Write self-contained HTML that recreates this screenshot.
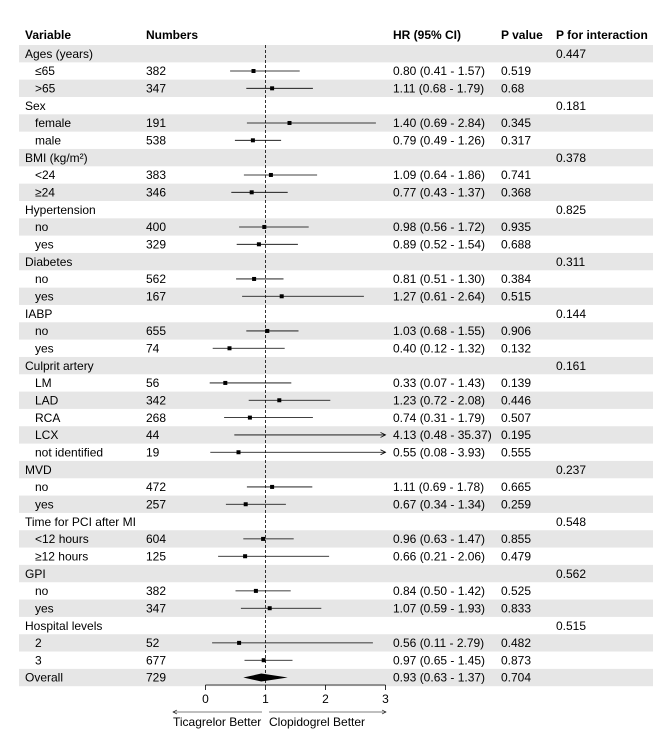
<!DOCTYPE html>
<html><head><meta charset="utf-8">
<style>
body{margin:0;background:#fff;}
svg{display:block;font-family:"Liberation Sans",Arial,sans-serif;}
</style></head>
<body>
<svg id="c" width="669" height="756" viewBox="0 0 669 756" xmlns="http://www.w3.org/2000/svg">
</svg>
<script>
const labels=["Ages (years)","≤65",">65","Sex","female","male","BMI (kg/m²)","<24","≥24","Hypertension","no","yes","Diabetes","no","yes","IABP","no","yes","Culprit artery","LM","LAD","RCA","LCX","not identified","MVD","no","yes","Time for PCI after MI","<12 hours","≥12 hours","GPI","no","yes","Hospital levels","2","3","Overall"];
const isGroup=[1,0,0,1,0,0,1,0,0,1,0,0,1,0,0,1,0,0,1,0,0,0,0,0,1,0,0,1,0,0,1,0,0,1,0,0,0];
const numbers=["","382","347","","191","538","","383","346","","400","329","","562","167","","655","74","","56","342","268","44","19","","472","257","","604","125","","382","347","","52","677","729"];
const est=[null,0.80,1.11,null,1.40,0.79,null,1.09,0.77,null,0.98,0.89,null,0.81,1.27,null,1.03,0.40,null,0.33,1.23,0.74,4.13,0.55,null,1.11,0.67,null,0.96,0.66,null,0.84,1.07,null,0.56,0.97,0.93];
const lo=[null,0.41,0.68,null,0.69,0.49,null,0.64,0.43,null,0.56,0.52,null,0.51,0.61,null,0.68,0.12,null,0.07,0.72,0.31,0.48,0.08,null,0.69,0.34,null,0.63,0.21,null,0.50,0.59,null,0.11,0.65,0.63];
const hi=[null,1.57,1.79,null,2.84,1.26,null,1.86,1.37,null,1.72,1.54,null,1.30,2.64,null,1.55,1.32,null,1.43,2.08,1.79,35.37,3.93,null,1.78,1.34,null,1.47,2.06,null,1.42,1.93,null,2.79,1.45,1.37];
const pval=["","0.519","0.68","","0.345","0.317","","0.741","0.368","","0.935","0.688","","0.384","0.515","","0.906","0.132","","0.139","0.446","0.507","0.195","0.555","","0.665","0.259","","0.855","0.479","","0.525","0.833","","0.482","0.873","0.704"];
const pint=["0.447","","","0.181","","","0.378","","","0.825","","","0.311","","","0.144","","","0.161","","","","","","0.237","","","0.548","","","0.562","","","0.515","","",""];
const ticks=[0,1,2,3];
const fmt=v=>v.toFixed(2);
const NS="http://www.w3.org/2000/svg";
const svg=document.getElementById('c');
function mk(t,a,p){const e=document.createElementNS(NS,t);for(const k in a)e.setAttribute(k,a[k]);(p||svg).appendChild(e);return e;}
const x=v=>205.5+60*v;
const rowTop=i=>45+i*17.33;
const rowH=17.33;
const cy=i=>rowTop(i)+rowH/2;
const xmax=3;
// header
const hdr=[["Variable",25],["Numbers",146],["HR (95% CI)",393],["P value",501],["P for interaction",556]];
hdr.forEach(h=>{const t=mk('text',{x:h[1],y:39,'font-size':12,'font-weight':'bold',fill:'#000'});t.textContent=h[0];

});
// rows
labels.forEach((lab,i)=>{
 const g=mk('g',{});
 
 
 if(i%2===0){const r=mk('rect',{x:19,y:rowTop(i),width:634,height:rowH,fill:'#e6e6e6'},g);
  
  }
 const ty=cy(i)+4.2;
 const t=mk('text',{x:isGroup[i]||i===labels.length-1?25:35,y:ty,'font-size':12},g);t.textContent=lab;
 
 
 if(numbers[i]){const n=mk('text',{x:146,y:ty,'font-size':12},g);n.textContent=numbers[i];
  
  }
 if(est[i]!==null){
  const h=mk('text',{x:393,y:ty,'font-size':12},g);h.textContent=fmt(est[i])+" ("+fmt(lo[i])+" - "+fmt(hi[i])+")";
  
  
 }
 if(pval[i]){const p=mk('text',{x:501,y:ty,'font-size':12},g);p.textContent=pval[i];
  
  }
 if(pint[i]){const p=mk('text',{x:556,y:ty,'font-size':12},g);p.textContent=pint[i];
  
  }
});
// reference line
const ref=mk('line',{x1:x(1),x2:x(1),y1:45,y2:685,stroke:'#000','stroke-width':0.8,'stroke-dasharray':'3,2'});


// CIs
labels.forEach((lab,i)=>{
 if(est[i]===null) return;
 const y=cy(i);
 if(i===labels.length-1){
  const d=mk('polygon',{points:`${x(lo[i])},${y} ${x(est[i])},${y-4} ${x(hi[i])},${y} ${x(est[i])},${y+4}`,fill:'#000'});
  
  
  return;
 }
 const over=hi[i]>xmax;
 const x2=over?x(xmax):x(hi[i]);
 const l=mk('line',{x1:x(lo[i]),x2:x2,y1:y,y2:y,stroke:'#000','stroke-width':0.8});
 
 
 if(over){const a=mk('polyline',{points:`${x2-5},${y-2.5} ${x2},${y} ${x2-5},${y+2.5}`,fill:'none',stroke:'#000','stroke-width':0.8});
  
  }
 if(est[i]<=xmax){const b=mk('rect',{x:x(est[i])-2,y:y-2,width:4,height:4,fill:'#000'});
  
  }
});
// axis
const ax=mk('g',{});


mk('line',{x1:x(0),x2:x(3),y1:685,y2:685,stroke:'#000','stroke-width':0.8},ax);
ticks.forEach(v=>{mk('line',{x1:x(v),x2:x(v),y1:685,y2:690,stroke:'#000','stroke-width':0.8},ax);
 const t=mk('text',{x:x(v),y:703,'font-size':12,'text-anchor':'middle'},ax);t.textContent=v;
 
 });
mk('line',{x1:173,x2:262,y1:712,y2:712,stroke:'#000','stroke-width':0.6},ax);
mk('polyline',{points:'177,710 173,712 177,714',fill:'none',stroke:'#000','stroke-width':0.6},ax);
mk('line',{x1:269,x2:386,y1:712,y2:712,stroke:'#000','stroke-width':0.6},ax);
mk('polyline',{points:'382,710 386,712 382,714',fill:'none',stroke:'#000','stroke-width':0.6},ax);
const tl=mk('text',{x:173,y:726,'font-size':12},ax);tl.textContent="Ticagrelor Better";


const tr=mk('text',{x:269,y:726,'font-size':12},ax);tr.textContent="Clopidogrel Better";


</script>
</body></html>
